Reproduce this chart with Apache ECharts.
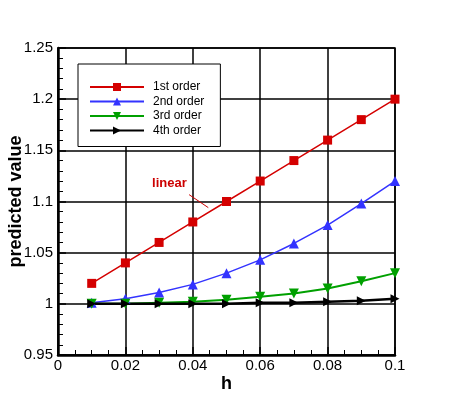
<!DOCTYPE html>
<html>
<head>
<meta charset="utf-8">
<script src="https://cdn.jsdelivr.net/npm/echarts@6/dist/echarts.min.js"></script>
<style>
  html, body { margin: 0; padding: 0; background: #fff; }
  #main { width: 450px; height: 400px; }
</style>
</head>
<body>
<div id="main"></div>
<script>
// values
var hValues = [0.01, 0.02, 0.03, 0.04, 0.05, 0.06, 0.07, 0.08, 0.09, 0.1];
var firstOrder  = [1.02, 1.04, 1.06, 1.08, 1.10, 1.12, 1.14, 1.16, 1.18, 1.20];
var secondOrder = [1.001, 1.005, 1.011, 1.019, 1.030, 1.043, 1.059, 1.077, 1.098, 1.120];
var thirdOrder  = [1.000, 1.000, 1.001, 1.002, 1.004, 1.007, 1.010, 1.015, 1.022, 1.030];
var fourthOrder = [1.000, 1.000, 1.000, 1.000, 1.000, 1.001, 1.001, 1.002, 1.003, 1.005];
var seriesNames = ['1st order', '2nd order', '3rd order', '4th order'];

// "linear" label and its leader line, in data coordinates
var noteText = 'linear';
var notePos = [0.0279, 1.111];
var noteLine = [[0.0389, 1.1067], [0.0446, 1.094]];

function pairs(vals) {
  return hValues.map(function (h, i) { return [h, vals[i]]; });
}

var font = 'Liberation Sans, Arial, Helvetica, sans-serif';
var chart = echarts.init(document.getElementById('main'));

var option = {
  animation: false,
  grid: {
    left: 58, right: 55, top: 48, bottom: 45,
    outerBoundsMode: 'none',
    containLabel: false,
    show: true, borderColor: '#000', borderWidth: 1.5
  },
  legend: {
    orient: 'vertical',
    left: 78, top: 64,
    data: seriesNames,
    backgroundColor: '#fff',
    borderColor: '#000',
    borderWidth: 1,
    borderRadius: 0,
    padding: [17, 16, 10, 11],
    itemWidth: 54,
    itemHeight: 10,
    itemGap: 2.5,
    textStyle: { fontFamily: font, fontSize: 12, color: '#000', padding: [0, 0, 0, 4] }
  },
  xAxis: {
    type: 'value',
    min: 0, max: 0.1, interval: 0.02,
    name: 'h',
    nameLocation: 'middle',
    nameMoveOverlap: false,
    nameGap: 20,
    nameTextStyle: { fontFamily: font, fontSize: 18, fontWeight: 'bold', color: '#000' },
    axisLine: { show: true, onZero: false, lineStyle: { color: '#000', width: 2.5 } },
    axisTick: { show: true, inside: true, length: 8, lineStyle: { color: '#000', width: 1.5 } },
    minorTick: { show: true, splitNumber: 4, length: 5, lineStyle: { color: '#000', width: 1 } },
    axisLabel: { fontFamily: font, fontSize: 15, color: '#000', margin: 3 },
    splitLine: { show: true, lineStyle: { color: '#000', width: 1.5 } }
  },
  yAxis: {
    type: 'value',
    min: 0.95, max: 1.25, interval: 0.05,
    name: 'predicted value',
    nameLocation: 'middle',
    nameMoveOverlap: false,
    nameGap: 32.5,
    nameTextStyle: { fontFamily: font, fontSize: 18, fontWeight: 'bold', color: '#000' },
    axisLine: { show: true, onZero: false, lineStyle: { color: '#000', width: 2.5 } },
    axisTick: { show: true, inside: true, length: 8, lineStyle: { color: '#000', width: 1.5 } },
    minorTick: { show: true, splitNumber: 5, length: 5, lineStyle: { color: '#000', width: 1 } },
    axisLabel: { fontFamily: font, fontSize: 15, color: '#000', margin: 5 },
    splitLine: { show: true, lineStyle: { color: '#000', width: 1.5 } }
  },
  series: [
    {
      name: seriesNames[0], type: 'line', data: pairs(firstOrder),
      symbol: 'rect', symbolSize: 9,
      lineStyle: { color: '#d40000', width: 1.5 },
      itemStyle: { color: '#d40000' }
    },
    {
      name: seriesNames[1], type: 'line', data: pairs(secondOrder),
      symbol: 'triangle', symbolSize: 10,
      lineStyle: { color: '#3333ff', width: 1.5 },
      itemStyle: { color: '#3333ff' }
    },
    {
      name: seriesNames[2], type: 'line', data: pairs(thirdOrder),
      symbol: 'triangle', symbolSize: 10, symbolRotate: 180,
      lineStyle: { color: '#00a000', width: 2 },
      itemStyle: { color: '#00a000' }
    },
    {
      name: seriesNames[3], type: 'line', data: pairs(fourthOrder),
      symbol: 'triangle', symbolSize: 9, symbolRotate: -90,
      lineStyle: { color: '#000', width: 2.5 },
      itemStyle: { color: '#000' }
    }
  ]
};

chart.setOption(option);

// place the annotation through the chart's own coordinate system
var tp = chart.convertToPixel({ gridIndex: 0 }, notePos);
var l0 = chart.convertToPixel({ gridIndex: 0 }, noteLine[0]);
var l1 = chart.convertToPixel({ gridIndex: 0 }, noteLine[1]);
chart.setOption({
  graphic: [
    {
      type: 'text', x: tp[0], y: tp[1], z: 100,
      style: {
        text: noteText, fill: '#cc0000',
        font: 'bold 13px ' + font,
        textVerticalAlign: 'bottom'
      }
    },
    {
      type: 'line', z: 100,
      shape: { x1: l0[0], y1: l0[1], x2: l1[0], y2: l1[1] },
      style: { stroke: '#cc0000', lineWidth: 1 }
    }
  ]
});
</script>
</body>
</html>
